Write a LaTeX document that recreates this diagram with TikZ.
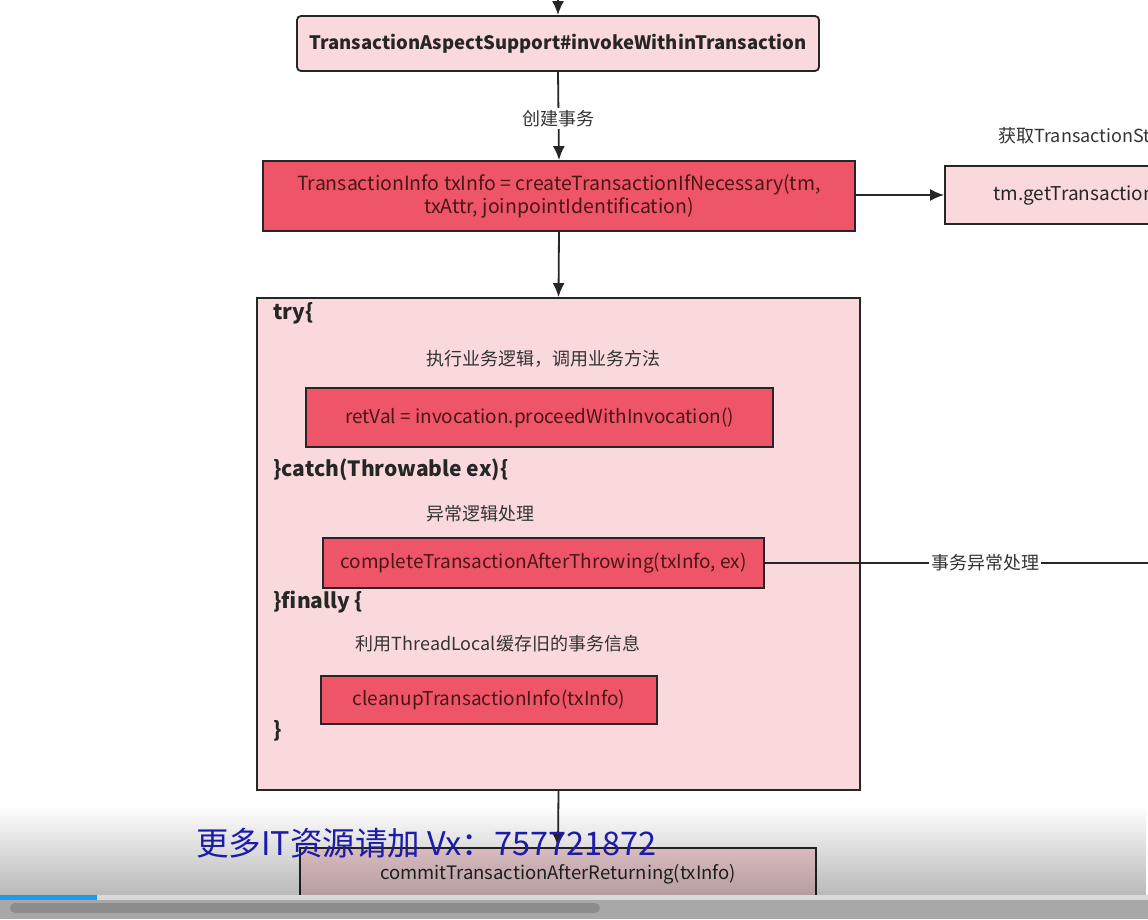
\documentclass[tikz,border=0pt]{standalone}
\usepackage{fontspec}
\setmainfont{Noto Sans CJK SC}
\usetikzlibrary{arrows.meta,fadings}
\definecolor{lightpk}{HTML}{FAD9DC}
\definecolor{redbox}{HTML}{EF5568}
\definecolor{redtxt}{HTML}{4A1616}
\definecolor{lbl}{HTML}{333333}
\definecolor{wm}{HTML}{1C1CA8}
\definecolor{progblue}{HTML}{1E9BE8}
\definecolor{sbg}{HTML}{A8A8A8}
\tikzset{
  lightbox/.style={draw=black!85, line width=1.8pt, fill=lightpk, inner sep=0pt, font=\fontsize{19}{22}\selectfont, text=black!85},
  redbx/.style={draw=black!85, line width=1.8pt, fill=redbox, inner sep=0pt, font=\fontsize{19}{23}\selectfont, text=redtxt, align=center},
  code/.style={anchor=west, font=\bfseries\fontsize{21}{24}\selectfont, text=black!85},
  note/.style={font=\fontsize{18}{21}\selectfont, text=lbl},
  conn/.style={line width=1.8pt, draw=black!85},
  arr/.style={conn, -{Latex[length=14pt,width=12pt]}},
}
\begin{document}
\begin{tikzpicture}[x=1pt,y=-1pt]
\useasboundingbox (0,0) rectangle (1148,919);
\clip (0,0) rectangle (1148,919);
\fill[white] (0,0) rectangle (1148,919);

% top box
\node[lightbox, rounded corners=4pt, minimum width=522pt, minimum height=55pt, font=\bfseries\fontsize{18.5}{22}\selectfont] (inv) at (558,43.5) {TransactionAspectSupport\#invokeWithinTransaction};
\coordinate (topin) at (558,-10);
\draw[arr] (topin) -- (inv.north);

% create transaction
\node[redbx, minimum width=592pt, minimum height=70pt, font=\fontsize{19.5}{23}\selectfont] (create) at (559,196) {TransactionInfo txInfo = createTransactionIfNecessary(tm,\\txAttr, joinpointIdentification)};
\draw[arr] (inv.south) -- node[pos=0.53, fill=white, note, inner sep=2pt] {创建事务} (create.north);

% getTransaction
\node[lightbox, minimum width=320pt, minimum height=58pt] (gettx) at (1105,195) {tm.getTransaction(txAttr)};
\node[note, anchor=west] (gettxlbl) at (995,136) {获取TransactionStatus};
\draw[arr] (create.east |- gettx.west) -- (gettx.west);

% try block
\node[lightbox, minimum width=603pt, minimum height=492pt] (tryblk) at (558.5,544) {};
\draw[arr] (create.south) -- (tryblk.north);

\node[code] (tryl) at (270,313) {try\{};
\node[note] (n1) at (543,359) {执行业务逻辑，调用业务方法};
\node[redbx, minimum width=467pt, minimum height=59pt] (proceed) at (539.5,417.5) {retVal = invocation.proceedWithInvocation()};
\node[code] (catchl) at (270,470) {\}catch(Throwable ex)\{};
\node[note] (n2) at (480,514) {异常逻辑处理};
\node[redbx, minimum width=441pt, minimum height=50pt] (afterthrow) at (543.5,563) {completeTransactionAfterThrowing(txInfo, ex)};
\node[code] (finl) at (270,602) {\}finally \{};
\node[note] (n3) at (498,644) {利用ThreadLocal缓存旧的事务信息};
\node[redbx, minimum width=336pt, minimum height=48pt] (cleanup) at (489,700) {cleanupTransactionInfo(txInfo)};
\node[code] (closel) at (270,731) {\}};

\coordinate (exitR) at (1206,563);
\draw[conn] (afterthrow.east) -- node[fill=white, note, inner sep=2pt] {事务异常处理} (exitR);

% commit
\node[lightbox, minimum width=516pt, minimum height=53pt, font=\fontsize{18.5}{22}\selectfont] (commit) at (558,874.5) {commitTransactionAfterReturning(txInfo)};
\draw[arr] (tryblk.south) -- (commit.north);

% video overlay
\fill[black, fill opacity=0.28, path fading=north] (0,805) rectangle (1148,896);
\fill[black!15] (0,895) rectangle (1148,900);
\fill[progblue] (0,895) rectangle (97,900);
\fill[sbg] (0,900) rectangle (1148,919);
\fill[black!45, rounded corners=5pt] (10,903) rectangle (600,913);
\node[anchor=west, text=wm, font=\fontsize{32.5}{36}\selectfont, inner sep=0pt] (wmark) at (196,843) {更多IT资源请加 Vx：757721872};
\end{tikzpicture}
\end{document}
